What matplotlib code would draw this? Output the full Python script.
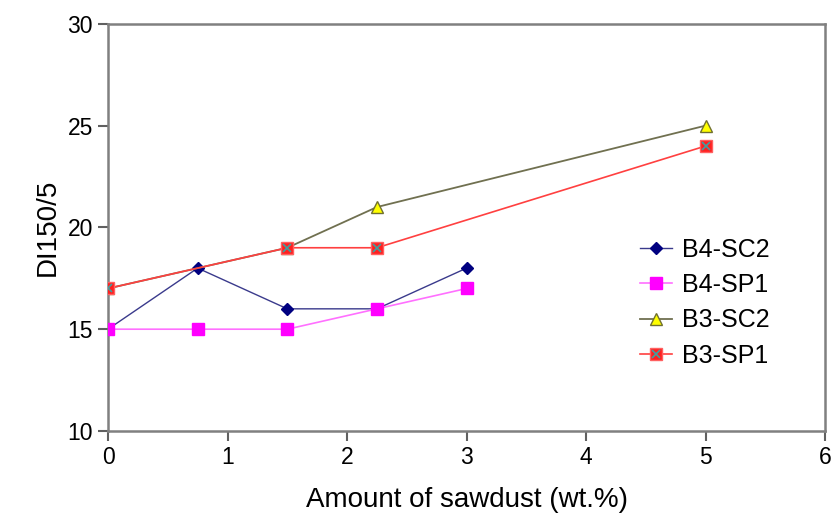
import matplotlib
matplotlib.use("Agg")
import matplotlib.pyplot as plt
from matplotlib.legend_handler import HandlerTuple

plt.rcParams["font.family"] = ["Liberation Sans", "DejaVu Sans"]

# sawdust content (wt.%) and DI150/5 values
x_b4 = [0, 0.75, 1.5, 2.25, 3]
b4_sc2 = [15, 18, 16, 16, 18]
b4_sp1 = [15, 15, 15, 16, 17]
x_b3 = [0, 1.5, 2.25, 5]
b3_sc2 = [17, 19, 21, 25]
b3_sp1 = [17, 19, 19, 24]

fig = plt.figure(figsize=(8.31, 5.18), dpi=100)
ax = fig.add_axes([0.130, 0.168, 0.863, 0.786])

h1, = ax.plot(x_b4, b4_sc2, color="#3a3a8c", lw=1.0, marker="D", ms=6.5,
              mfc="#000080", mec="#000080", zorder=2)
h2, = ax.plot(x_b4, b4_sp1, color="#ff70ff", lw=1.2, marker="s", ms=8,
              mfc="#ff00ff", mec="#ff00ff", zorder=3)
h3, = ax.plot(x_b3, b3_sc2, color="#707050", lw=1.3, marker="^", ms=8,
              mfc="#ffff00", mec="#707030", zorder=2)
h4, = ax.plot(x_b3, b3_sp1, color="#ff4040", lw=1.2, marker="s", ms=8,
              mfc="#ff2020", mec="#ff6060", zorder=4)
h4x, = ax.plot(x_b3, b3_sp1, ls="none", marker="x", ms=6, mew=1.2,
               color="#40a0a0", zorder=5)

ax.set_xlim(0, 6)
ax.set_ylim(10, 30)
ax.set_xticks(range(0, 7))
ax.set_yticks([10, 15, 20, 25, 30])
for s in ax.spines.values():
    s.set_color("#808080")
    s.set_linewidth(1.8)
ax.tick_params(direction="out", length=7, width=1.5, color="#606060",
               labelsize=16.5, pad=4)

ax.set_xlabel("Amount of sawdust (wt.%)", fontsize=20, labelpad=13)
ax.set_ylabel("DI150/5", fontsize=20, labelpad=5)

ax.legend([h1, h2, h3, (h4, h4x)], ["B4-SC2", "B4-SP1", "B3-SC2", "B3-SP1"],
          handler_map={tuple: HandlerTuple(ndivide=1, pad=0)},
          loc="center left", bbox_to_anchor=(0.71, 0.315), frameon=False,
          fontsize=18, handlelength=1.3, handletextpad=0.4,
          labelspacing=0.45)

fig.savefig("out.png", dpi=100)
